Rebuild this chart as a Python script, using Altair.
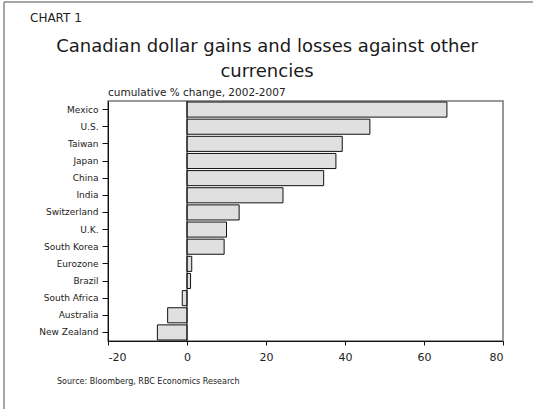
import altair as alt
import pandas as pd

countries = ["Mexico", "U.S.", "Taiwan", "Japan", "China", "India", "Switzerland",
             "U.K.", "South Korea", "Eurozone", "Brazil", "South Africa",
             "Australia", "New Zealand"]
changes = [65.8, 46.3, 39.3, 37.7, 34.6, 24.3, 13.2, 10.0, 9.4, 1.2, 0.9, -1.2, -4.9, -7.5]
x_ticks = [-20, 0, 20, 40, 60, 80]

df = pd.DataFrame({"country": countries, "change": changes})

FONT = "DejaVu Sans"
W, H = 395, 240
LEFT, TOP = 108, 101

bars = alt.Chart(df).mark_bar(
    fill="#e0e0e0", stroke="#111111", strokeWidth=1
).encode(
    x=alt.X("change:Q", scale=alt.Scale(domain=[-20, 80], nice=False),
            axis=alt.Axis(values=x_ticks, title=None, grid=False, labelFontSize=11,
                          labelFont=FONT, labelColor="#222", domainColor="#111",
                          tickColor="#111", tickSize=4, labelPadding=6,
                          labelExpr="'' + datum.value")),
    y=alt.Y("country:N", sort=countries, scale=alt.Scale(paddingInner=0.12, paddingOuter=0.06),
            axis=alt.Axis(title=None, labelFontSize=9, labelFont=FONT, labelColor="#222",
                          domainColor="#111", tickColor="#111", tickSize=6, labelPadding=4)),
)

zero = alt.Chart(pd.DataFrame({"z": [0]})).mark_rule(color="#111", strokeWidth=1).encode(x="z:Q")

def txt(s, x, y, size, align="left", weight="normal", color="#222"):
    return alt.Chart(pd.DataFrame({"t": [s]})).mark_text(
        align=align, baseline="middle", fontSize=size, font=FONT, fontWeight=weight, color=color
    ).encode(x=alt.value(x - LEFT), y=alt.value(y - TOP), text="t:N")

texts = (
    txt("CHART 1", 30, 18, 12)
    + txt("Canadian dollar gains and losses against other", 267, 47, 18, "center", "normal", "#1a1a1a")
    + txt("currencies", 267, 72, 18, "center", "normal", "#1a1a1a")
    + txt("cumulative % change, 2002-2007", 108, 93, 10.5)
    + txt("Source: Bloomberg, RBC Economics Research", 57, 382, 8)
)

frame_left = alt.Chart(pd.DataFrame({"a": [0]})).mark_rule(color="#888", strokeWidth=1.5).encode(
    x=alt.value(4 - LEFT), y=alt.value(2 - TOP), y2=alt.value(409 - TOP))
frame_top = alt.Chart(pd.DataFrame({"a": [0]})).mark_rule(color="#888", strokeWidth=1.5).encode(
    x=alt.value(4 - LEFT), x2=alt.value(533 - LEFT), y=alt.value(2 - TOP))

chart = alt.layer(bars, zero, texts, frame_left, frame_top).properties(
    width=W, height=H,
    autosize=alt.AutoSizeParams(type="none"),
    padding={"left": LEFT, "top": TOP, "right": 533 - LEFT - W, "bottom": 409 - TOP - H},
    background="white",
).configure_view(stroke="#777", strokeWidth=1.5)

chart.save("out.html", embed_options={"renderer": "svg", "actions": False})
